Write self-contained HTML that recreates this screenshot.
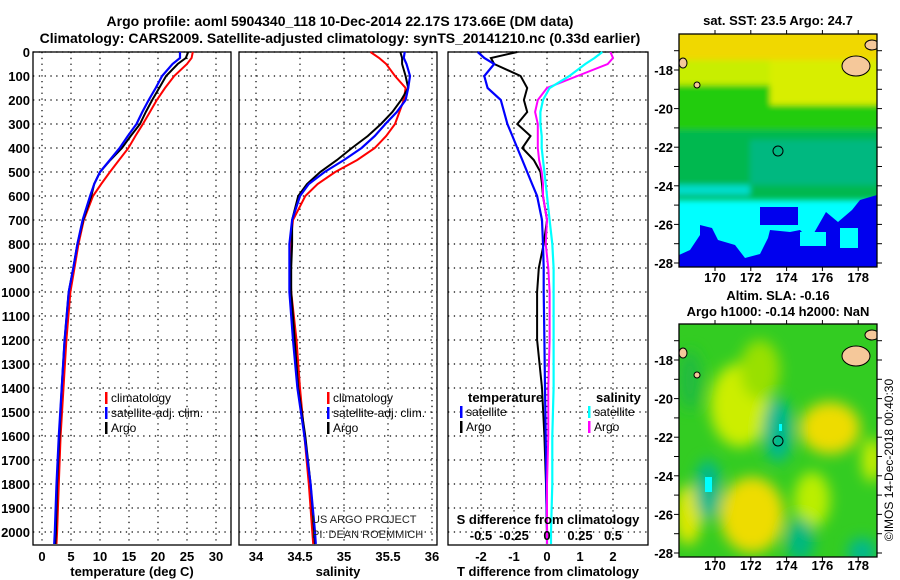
<!DOCTYPE html>
<html><head><meta charset="utf-8"><style>
body{margin:0;background:#fff}
svg{display:block;font-family:"Liberation Sans",sans-serif}
.t{font-weight:bold;font-size:13px}
</style></head><body>
<svg id="c" width="900" height="580" viewBox="0 0 900 580">
<defs>
<filter id="bl" x="-30%" y="-30%" width="160%" height="160%"><feGaussianBlur stdDeviation="7"/></filter>
<filter id="bl2" x="-20%" y="-20%" width="140%" height="140%"><feGaussianBlur stdDeviation="3"/></filter>
<clipPath id="cm1"><rect x="679" y="34" width="198" height="233"/></clipPath>
<clipPath id="cm2"><rect x="679" y="324" width="198" height="233"/></clipPath>
</defs>
<text x="340" y="26" text-anchor="middle" font-size="14" font-weight="bold">Argo profile: aoml 5904340_118 10-Dec-2014 22.17S 173.66E (DM data)</text>
<text x="340" y="43" text-anchor="middle" font-size="14" font-weight="bold">Climatology: CARS2009. Satellite-adjusted climatology: synTS_20141210.nc (0.33d earlier)</text>

<g>
<text x="778" y="25" text-anchor="middle" class="t" font-size="12">sat. SST: 23.5 Argo: 24.7</text>
<g clip-path="url(#cm1)">
<rect x="679" y="34" width="198" height="233" fill="#00ffff"/>
<g filter="url(#bl2)">
<rect x="670" y="25" width="220" height="175" fill="#00b850"/>
<rect x="670" y="25" width="220" height="105" fill="#22cc10"/>
<rect x="670" y="25" width="220" height="60" fill="#c8ee00"/>
<rect x="770" y="25" width="120" height="80" fill="#d8ee00"/>
<rect x="670" y="25" width="220" height="35" fill="#f0d800"/>
<rect x="750" y="140" width="127" height="45" fill="#00b880"/>
<rect x="670" y="185" width="80" height="10" fill="#00ddcc"/>
</g>
<polygon points="679,255 690,250 700,235 700,225 712,228 718,240 735,245 745,258 760,254 768,238 770,230 790,232 800,230 810,240 818,226 826,212 838,222 852,210 860,200 877,195 877,267 679,267" fill="#0000ee"/>
<rect x="760" y="207" width="38" height="18" fill="#0000ee"/>
<rect x="800" y="232" width="26" height="14" fill="#00ffff"/>
<rect x="840" y="228" width="18" height="20" fill="#00ffff"/>
<ellipse cx="856" cy="66" rx="14" ry="10" fill="#f5c89a" stroke="#000"/>
<ellipse cx="872" cy="45" rx="7" ry="5" fill="#f5c89a" stroke="#000"/>
<ellipse cx="683" cy="63" rx="4" ry="5" fill="#f5c89a" stroke="#000"/>
<ellipse cx="697" cy="85" rx="3" ry="3" fill="#f5c89a" stroke="#000"/>
</g>
<rect x="679" y="34" width="198" height="233" fill="none" stroke="#000" stroke-width="1.3"/>
<circle cx="778" cy="151" r="5" fill="none" stroke="#000"/>
</g>

<g>
<text x="778" y="300" text-anchor="middle" class="t" font-size="12">Altim. SLA: -0.16</text>
<text x="778" y="316" text-anchor="middle" class="t" font-size="12">Argo h1000: -0.14 h2000: NaN</text>
<g clip-path="url(#cm2)">
<rect x="679" y="324" width="198" height="233" fill="#33cc22"/>
<g filter="url(#bl)">
<ellipse cx="740" cy="405" rx="30" ry="42" fill="#ccee00"/>
<ellipse cx="760" cy="370" rx="20" ry="30" fill="#99e000"/>
<ellipse cx="830" cy="428" rx="30" ry="26" fill="#eedc00"/>
<ellipse cx="752" cy="515" rx="32" ry="38" fill="#eedc00"/>
<ellipse cx="688" cy="515" rx="14" ry="30" fill="#dde800"/>
<ellipse cx="812" cy="500" rx="18" ry="28" fill="#bbee00"/>
<ellipse cx="872" cy="460" rx="10" ry="22" fill="#ccee00"/>
<ellipse cx="708" cy="490" rx="13" ry="30" fill="#00b890"/>
<ellipse cx="778" cy="430" rx="15" ry="32" fill="#00b890"/>
<ellipse cx="800" cy="540" rx="14" ry="22" fill="#00b880"/>
<ellipse cx="862" cy="552" rx="14" ry="14" fill="#00b890"/>
<ellipse cx="690" cy="380" rx="12" ry="30" fill="#22bb40"/>
</g>
<rect x="705" y="477" width="7" height="15" fill="#00ffff"/>
<rect x="779" y="424" width="3" height="7" fill="#00ffff"/>
<ellipse cx="856" cy="356" rx="14" ry="10" fill="#f5c89a" stroke="#000"/>
<ellipse cx="872" cy="335" rx="7" ry="5" fill="#f5c89a" stroke="#000"/>
<ellipse cx="683" cy="353" rx="4" ry="5" fill="#f5c89a" stroke="#000"/>
<ellipse cx="697" cy="375" rx="3" ry="3" fill="#f5c89a" stroke="#000"/>
</g>
<rect x="679" y="324" width="198" height="233" fill="none" stroke="#000" stroke-width="1.3"/>
<circle cx="778" cy="441" r="5" fill="none" stroke="#000"/>
</g>
<text transform="translate(893,460) rotate(-90)" text-anchor="middle" font-size="12">©IMOS 14-Dec-2018 00:40:30</text>
<g id="dyn"></g>
</svg>
<script>
const depths=[0,25,50,100,150,200,250,300,350,400,450,500,550,600,700,800,900,1000,1200,1400,1600,1800,2000,2050];
const tClim=[26,25.8,25,22.8,21.2,19.8,18.6,17.4,16.1,14.9,13.3,11.7,10.2,8.8,7.2,6.3,5.6,4.9,4.2,3.7,3.2,2.9,2.6,2.5];
const tSat=[23.8,23.8,22.5,20.7,19.6,18.4,17.3,16.3,14.8,13.4,11.7,10,9,8.3,7,6.1,5.4,4.6,3.9,3.4,2.9,2.5,2.2,2.1];
const tArgo=[25.2,24.8,23.4,21.4,20.2,19,17.9,16.9,15.3,13.8,11.8,10,9,8.5,7.1,6.1,5.4,4.6,3.9,3.4,3,2.6,2.4,2.3];
const sClim=[35.3,35.4,35.48,35.58,35.7,35.68,35.63,35.58,35.48,35.35,35.15,34.9,34.7,34.56,34.42,34.39,34.39,34.4,34.46,34.5,34.55,34.6,34.64,34.65];
const sSat=[35.69,35.68,35.71,35.75,35.73,35.7,35.6,35.47,35.35,35.2,35.0,34.78,34.6,34.5,34.41,34.38,34.38,34.38,34.42,34.47,34.55,34.62,34.67,34.68];
const sArgo=[35.64,35.66,35.66,35.7,35.73,35.65,35.55,35.42,35.27,35.09,34.92,34.73,34.58,34.48,34.41,34.41,34.4,34.4,34.44,34.48,34.56,34.62,34.66,34.67];
const dT_sat=[-2.1,-1.9,-1.6,-1.9,-1.8,-1.4,-1.3,-1.2,-1.05,-0.9,-0.75,-0.6,-0.45,-0.3,-0.15,-0.12,-0.1,-0.1,-0.08,-0.06,-0.04,-0.02,0,0];
const dT_argo=[-0.9,-1.7,-1.6,-0.8,-0.6,-0.7,-0.6,-0.9,-0.5,-0.75,-0.4,-0.2,-0.15,-0.12,0,-0.1,-0.25,-0.3,-0.3,-0.15,-0.08,-0.03,0,0];
const dS_sat=[0.42,0.36,0.29,0.17,0.02,-0.03,-0.05,-0.05,-0.04,-0.04,-0.03,-0.02,-0.01,0,0.02,0.04,0.05,0.05,0.05,0.05,0.04,0.04,0.03,0.03];
const dS_argo=[0.48,0.5,0.46,0.23,0,-0.07,-0.09,-0.07,-0.07,-0.07,-0.06,-0.04,-0.03,-0.03,0,-0.01,0.01,0.02,0.02,0.01,0.01,0,0,0];
const depthTicks=[0,100,200,300,400,500,600,700,800,900,1000,1100,1200,1300,1400,1500,1600,1700,1800,1900,2000];
const tTicks=[0,5,10,15,20,25,30];
const sTicks=[34,34.5,35,35.5,36];
const dTTicks=[-2,-1,0,1,2];
const dSTicks=["-0.5","-0.25","0","0.25","0.5"];
const latTicks=[-18,-20,-22,-24,-26,-28];
const latMinor=[-17,-18,-19,-20,-21,-22,-23,-24,-25,-26,-27,-28];
const lonTicks=[170,172,174,176,178];

const NS='http://www.w3.org/2000/svg';
const root=document.getElementById('dyn');
function mk(tag,attrs,parent){const e=document.createElementNS(NS,tag);for(const k in attrs)e.setAttribute(k,attrs[k]);(parent||root).appendChild(e);return e;}
const yD=d=>52+d*0.24;
const PT=52,PB=545;
const xT=v=>42+5.8*v;
const xS=v=>256+88*(v-34);
const xDT=v=>547+33*v;
const xDS=v=>547+132*v;

function panel(x0,x1,name,xs,xticks,labels,xtitle){
  const g=mk('g',{});
  
  
  xticks.forEach(v=>{const x=xs(v);mk('line',{x1:x,x2:x,y1:PT,y2:PB,stroke:'#000','stroke-dasharray':'1.3,4.5','stroke-width':1.2},g);});
  depthTicks.forEach(d=>{const y=yD(d);mk('line',{x1:x0,x2:x1,y1:y,y2:y,stroke:'#000','stroke-dasharray':'1.3,4.5','stroke-width':1.2},g);});
  mk('rect',{x:x0,y:PT,width:x1-x0,height:PB-PT,fill:'none',stroke:'#000','stroke-width':1.3},g);
  if(labels){xticks.forEach((v,i)=>{const t=mk('text',{x:xs(v),y:561,'text-anchor':'middle',class:'t'},g);t.textContent=labels[i];
  
  });}
  const tt=mk('text',{x:(x0+x1)/2,y:576,'text-anchor':'middle',class:'t'},g);tt.textContent=xtitle;
  
  
  return g;
}
function line(g,xs,vals,color,name,w){
  const d=vals.map((v,i)=>(i?'L':'M')+xs(v).toFixed(1)+','+yD(depths[i]).toFixed(1)).join('');
  const p=mk('path',{d:d,fill:'none',stroke:color,'stroke-width':w||2},g);
  
  
}
function legend(g,x,y,items){
  items.forEach((it,i)=>{
    mk('rect',{x:x,y:y+i*15-10,width:2.5,height:12,fill:it[1]},g);
    const t=mk('text',{x:x+6,y:y+i*15,'font-size':12},g);t.textContent=it[0];
    
    
  });
}
depthTicks.forEach(d=>{const t=mk('text',{x:30,y:yD(d)+5,'text-anchor':'end',class:'t'});t.textContent=d;

});

const g1=panel(33,231,'temperature-panel',xT,tTicks,tTicks,'temperature (deg C)');
line(g1,xT,tClim,'#f00','temp-climatology-line');
line(g1,xT,tArgo,'#000','temp-argo-line');
line(g1,xT,tSat,'#00f','temp-satellite-line',2.2);
legend(g1,105,402,[['climatology','#f00'],['satellite-adj. clim.','#00f'],['Argo','#000']]);

const g2=panel(239,437,'salinity-panel',xS,sTicks,sTicks,'salinity');
line(g2,xS,sClim,'#f00','sal-climatology-line');
line(g2,xS,sArgo,'#000','sal-argo-line');
line(g2,xS,sSat,'#00f','sal-satellite-line',2.2);
legend(g2,327,402,[['climatology','#f00'],['satellite-adj. clim.','#00f'],['Argo','#000']]);
const u1=mk('text',{x:312,y:523,'font-size':11,fill:'#222'},g2);u1.textContent='US ARGO PROJECT';


const u2=mk('text',{x:312,y:538,'font-size':11,fill:'#222'},g2);u2.textContent='PI: DEAN ROEMMICH';



const g3=panel(448,648,'difference-panel',xDT,dTTicks,dTTicks,'T difference from climatology');
line(g3,xDT,dT_argo,'#000','tdiff-argo-line');
line(g3,xDT,dT_sat,'#00f','tdiff-satellite-line',2.2);
line(g3,xDS,dS_argo,'#f0f','sdiff-argo-line');
line(g3,xDS,dS_sat,'#0ff','sdiff-satellite-line',2.2);
const lt=mk('text',{x:468,y:402,class:'t','font-size':12},g3);lt.textContent='temperature';


legend(g3,460,416,[['satellite','#00f'],['Argo','#000']]);
const ls=mk('text',{x:596,y:402,class:'t','font-size':12},g3);ls.textContent='salinity';


legend(g3,588,416,[['satellite','#0ff'],['Argo','#f0f']]);
const st=mk('text',{x:548,y:524,'text-anchor':'middle',class:'t','font-size':12},g3);st.textContent='S difference from climatology';


dSTicks.forEach(v=>{const t=mk('text',{x:xDS(parseFloat(v)),y:540,'text-anchor':'middle',class:'t','font-size':12},g3);t.textContent=v;

});

const xLon=v=>715+(v-170)*17.9;
const yLat1=v=>70+(-18-v)*19.3;
const yLat2=v=>360+(-18-v)*19.3;
[[yLat1,34,267,282],[yLat2,324,557,570]].forEach(([yl,top,bot,ly])=>{
  latMinor.forEach(v=>{const y=yl(v);if(y<top||y>bot)return;
    mk('line',{x1:674,x2:679,y1:y,y2:y,stroke:'#000'});
    mk('line',{x1:877,x2:882,y1:y,y2:y,stroke:'#000'});});
  latTicks.forEach(v=>{const y=yl(v);
    const t=mk('text',{x:673,y:y+5,'text-anchor':'end',class:'t'});t.textContent=v;
    
    });
  lonTicks.forEach(v=>{const x=xLon(v);mk('line',{x1:x,x2:x,y1:bot,y2:bot+4,stroke:'#000'});mk('line',{x1:x,x2:x,y1:top,y2:top-4,stroke:'#000'});
    const t=mk('text',{x:x,y:ly,'text-anchor':'middle',class:'t'});t.textContent=v;
    
    });
});
</script>
</body></html>
